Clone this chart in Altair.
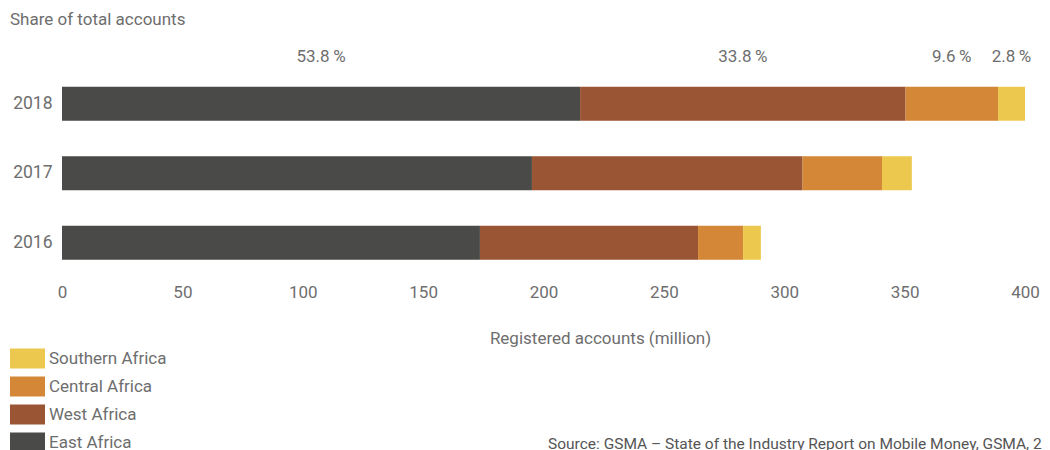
import altair as alt
import pandas as pd

years = ["2018", "2017", "2016"]
regions = ["East Africa", "West Africa", "Central Africa", "Southern Africa"]
east = [215.2, 195.2, 173.6]
west = [135.2, 112.4, 90.6]
central = [38.4, 33.0, 18.7]
southern = [11.2, 12.4, 7.4]
colors = ["#4a4a48", "#9a5535", "#d48736", "#ecc94e"]
legend_order = ["Southern Africa", "Central Africa", "West Africa", "East Africa"]
x_ticks = [0, 50, 100, 150, 200, 250, 300, 350, 400]
top_title = "Share of total accounts"
x_title = "Registered accounts (million)"
source = "Source: GSMA \u2013 State of the Industry Report on Mobile Money, GSMA, 2019"

FONT = "Roboto"
GREY = "#6e6e6e"

rows = []
for i, y in enumerate(years):
    vals = [east[i], west[i], central[i], southern[i]]
    total = sum(vals)
    cum = 0.0
    for j, r in enumerate(regions):
        rows.append(dict(year=y, region=r, value=vals[j], ord=j, start=cum,
                         end=cum + vals[j], mid=cum + vals[j] / 2,
                         share=f"{vals[j] / total * 100:.1f}\u2009%"))
        cum += vals[j]
df = pd.DataFrame(rows)

bars = alt.Chart(df).mark_bar(size=34).encode(
    x=alt.X("start:Q", scale=alt.Scale(domain=[0, 400], nice=False),
            axis=alt.Axis(values=x_ticks, title=x_title, titleX=538, titleY=61,
                          titleAlign="center", titleBaseline="middle", titleAnchor="start",
                          labelFlush=False)),
    x2="end:Q",
    y=alt.Y("year:N", sort=years, scale=alt.Scale(paddingInner=0, paddingOuter=0),
            axis=alt.Axis(title=None, labelPadding=10, labelFontSize=17.5)),
    color=alt.Color("region:N", scale=alt.Scale(domain=legend_order,
                    range=[colors[regions.index(r)] for r in legend_order]),
                    legend=alt.Legend(title=None, orient="none", legendX=-52, legendY=272,
                                      symbolType="M-1,-0.57H1V0.57H-1Z", symbolSize=1225,
                                      symbolStrokeWidth=0, labelFontSize=17, labelColor=GREY,
                                      labelFont=FONT, labelOffset=4, rowPadding=-7)),
    order=alt.Order("ord:Q"),
)

labels = alt.Chart(df[df.year == "2018"]).mark_text(
    fontSize=17, font=FONT, color=GREY, baseline="middle", align="center"
).encode(x="mid:Q", y=alt.value(-12), text="share:N")

title_txt = alt.Chart(pd.DataFrame({"t": [top_title]})).mark_text(
    fontSize=17, font=FONT, color=GREY, baseline="middle", align="left"
).encode(x=alt.value(-52), y=alt.value(-49), text="t:N")

source_txt = alt.Chart(pd.DataFrame({"t": [source]})).mark_text(
    fontSize=15.5, font=FONT, color="#555555", baseline="middle", align="left"
).encode(x=alt.value(486), y=alt.value(375), text="t:N")

chart = alt.layer(bars, labels, title_txt, source_txt).properties(
    width=963, height=208.5,
    autosize=alt.AutoSizeParams(type="none"),
    padding={"left": 54, "top": 61, "right": 17, "bottom": 172.5},
).configure_view(stroke=None).configure_axis(
    domain=False, ticks=False, grid=False, labelFont=FONT, titleFont=FONT,
    labelFontSize=17, titleFontSize=17, labelColor=GREY, titleColor=GREY,
    titleFontWeight="normal",
).configure_axisX(labelPadding=15, labelBaseline="middle")

chart.save("out.html", embed_options={"renderer": "svg", "actions": False})
